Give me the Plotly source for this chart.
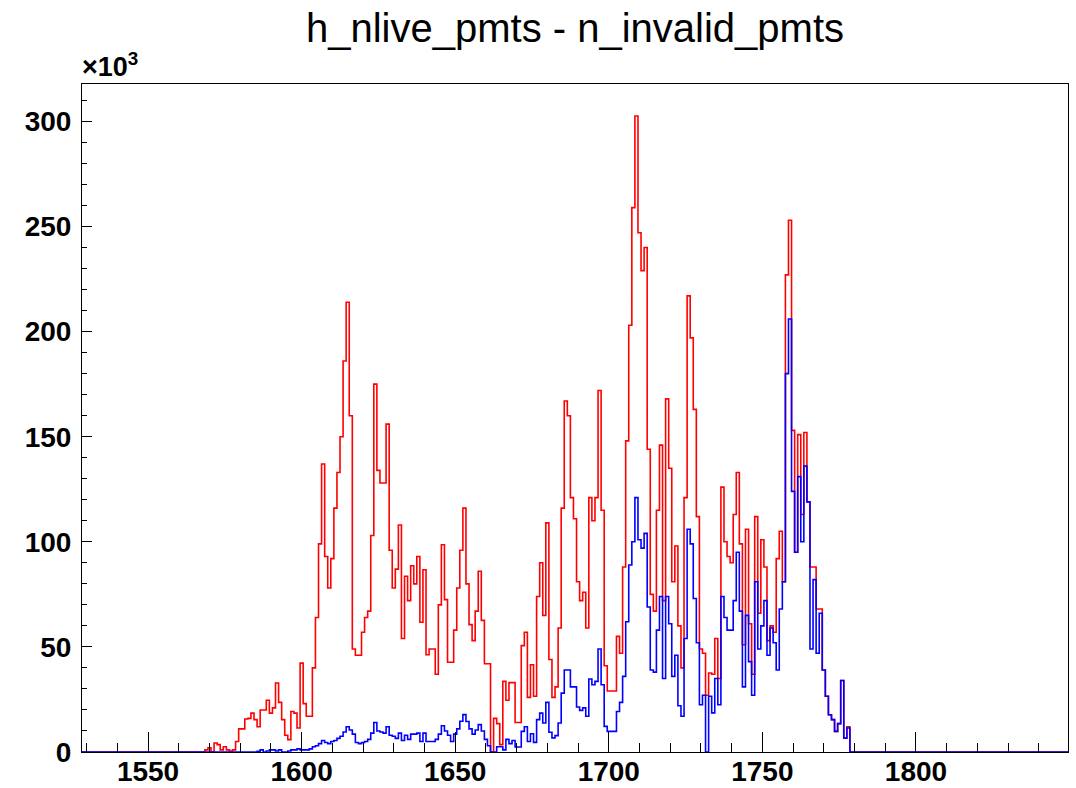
import numpy as np
import plotly.graph_objects as go

# Histogram contents, one value per unit-wide bin starting at first_bin (counts in thousands)
first_bin = 1566

nlive_k = [
    0, 0, 0, 1,                                              # 1566-1569
    2, 0, 4.3, 3.5, 1, 2.5, 1, 0.5, 1, 5,                    # 1570-1579
    11, 11, 15.7, 16, 18.5, 15.4, 12, 20, 20, 24.6,          # 1580-1589
    18.5, 21, 32.8, 23.6, 15.4, 8, 5.9, 19.3, 18.5, 11.4,    # 1590-1599
    42.3, 23, 17, 17, 40, 64, 99, 137, 93, 78,               # 1600-1609
    92, 116, 133, 150, 186, 214, 160, 49, 46, 46,            # 1610-1619
    57, 64, 67, 103, 175, 134, 128, 128, 156, 96,            # 1620-1629
    78, 87, 108, 54, 83.6, 72, 88.6, 80, 93, 61.7,           # 1630-1639
    86.7, 46.3, 49, 49, 37, 70, 98.6, 72.5, 42.7, 42.7,      # 1640-1649
    58, 78, 96, 116, 80, 60.6, 53, 67, 86, 62.6,             # 1650-1659
    42, 42, 0, 16, 13.5, 3.5, 33.6, 24.6, 33, 33,            # 1660-1669
    14, 14, 50.6, 57, 26, 41.5, 26.5, 74, 90, 65,            # 1670-1679
    109, 44, 26, 31, 59, 116, 167, 160, 121, 111,            # 1680-1689
    81, 72, 76, 59, 121, 110, 121, 172, 115, 41,             # 1690-1699
    29, 29, 29, 55, 47, 88, 148, 203, 259, 302.6,            # 1700-1709
    247, 229, 240, 144, 75, 67, 115, 146, 72, 168,           # 1710-1719
    135, 81, 98, 60, 40, 121, 217, 197, 163, 112,            # 1720-1729
    49, 47, 27, 37.6, 37, 54, 35, 126, 100, 93,              # 1730-1739
    90, 113, 133, 99, 51, 106, 61, 37, 112, 66,              # 1740-1749
    101, 88, 53, 60, 57, 92, 105, 81, 227, 253,              # 1750-1759
    153, 95, 151, 113, 152, 119, 88, 88, 68, 68,             # 1760-1769
    39, 26.5, 17.7, 15.4, 9.8, 13.5, 34, 6.6, 12, 0,         # 1770-1779
]

invalid_k = [
    0, 0, 0, 0,                                              # 1566-1569
    0, 0, 0, 0, 0, 0, 0, 0, 0, 0,                            # 1570-1579
    0, 0, 0, 0, 0, 0, 0.3, 1, 0, 0.5,                        # 1580-1589
    1, 1, 0.5, 1, 0, 0, 0.5, 1, 1, 1.5,                      # 1590-1599
    1, 1, 1, 1.5, 2.5, 3, 4, 5.5, 4.5, 4,                    # 1600-1609
    5, 5.5, 6.5, 7.5, 9.5, 12, 10.5, 8.5, 4.5, 4,            # 1610-1619
    4.5, 5, 6, 9, 14, 10, 9.5, 9, 12, 8,                     # 1620-1629
    7.5, 6.5, 9, 5.5, 8, 6, 8.5, 8.5, 9, 5,                  # 1630-1639
    9, 5, 5, 5, 6, 8.5, 12.5, 10, 8, 5,                      # 1640-1649
    8.5, 11, 14.6, 17.8, 14.5, 11, 8.5, 10.5, 13, 10,        # 1650-1659
    6, 3, 0, 0, 2.5, 2.5, 1, 6, 4, 5.5,                      # 1660-1669
    2.4, 2.4, 9.8, 12, 5, 8.7, 4.6, 15.4, 18.5, 13.8,        # 1670-1679
    23.6, 9.4, 6.7, 7.8, 13.8, 28, 39, 39, 31, 31,           # 1680-1689
    21.4, 19.8, 21, 17, 34.7, 32, 33.6, 49, 32, 12.2,        # 1690-1699
    9.8, 9.8, 9.8, 19.3, 23.6, 36, 62, 89, 100, 121,         # 1700-1709
    101, 97, 104, 69, 39, 38, 58, 74, 35, 74,                # 1710-1719
    61, 36, 46, 22, 17, 54, 106, 99, 73, 52,                 # 1720-1729
    22.5, 27, 0, 26.5, 18.6, 35, 22.5, 74, 64, 58,           # 1730-1739
    58, 72, 95, 67, 31, 65, 43, 27, 81, 49,                  # 1740-1749
    60, 72, 46, 59, 52, 39, 68, 81, 180, 206,                # 1750-1759
    124, 95, 131, 100, 136, 119, 49, 82, 47, 66,             # 1760-1769
    39, 26.5, 17.7, 15.4, 9.8, 13.5, 34, 6.6, 11.4, 0,       # 1770-1779
]

x_min, x_max = 1528.5, 1849.5
y_max = 317.8
x_ticks = [1550, 1600, 1650, 1700, 1750, 1800]
y_ticks = [0, 50, 100, 150, 200, 250, 300]

FONT = "Liberation Sans, Arial, Helvetica, sans-serif"


def step_outline(values):
    """Histogram outline: low bin edges, padded with empty stretches to the axis limits."""
    lo = first_bin - 0.5 + np.arange(len(values))
    xs = [x_min] + lo.tolist() + [float(lo[-1] + 1), x_max]
    ys = [0] + list(values) + [0, 0]
    return xs, ys


fig = go.Figure()
for vals, color in ((nlive_k, "#ff0000"), (invalid_k, "#0000ff")):
    xs, ys = step_outline(vals)
    fig.add_trace(go.Scatter(
        x=xs, y=ys, mode="lines", line=dict(color=color, width=1.6, shape="hv"),
        hoverinfo="skip", showlegend=False,
    ))

tick_font = dict(family=FONT, size=28, color="black", weight="bold")

fig.update_xaxes(
    range=[x_min, x_max], tickvals=x_ticks, ticks="inside", ticklen=20,
    tickwidth=1, tickcolor="black", showline=True, linecolor="black",
    linewidth=1, mirror=True, showgrid=False, zeroline=False,
    tickfont=tick_font, ticklabelstandoff=-6, automargin=False,
    minor=dict(dtick=10, tick0=1530, ticks="inside", ticklen=9,
               tickwidth=1, tickcolor="black", showgrid=False),
)
fig.update_yaxes(
    range=[0, y_max], tickvals=y_ticks, ticks="inside", ticklen=10,
    tickwidth=1, tickcolor="black", showline=True, linecolor="black",
    linewidth=1, mirror=True, showgrid=False, zeroline=False,
    tickfont=tick_font, ticklabelstandoff=4, automargin=False,
    minor=dict(dtick=10, tick0=0, ticks="inside", ticklen=5,
               tickwidth=1, tickcolor="black", showgrid=False),
)

fig.update_layout(
    width=1076, height=788, autosize=False,
    margin=dict(l=82, r=8, t=84, b=36),
    paper_bgcolor="white", plot_bgcolor="white",
    title=dict(text="h_nlive_pmts - n_invalid_pmts", x=0.5, xref="paper",
               y=1 - 28 / 788, yref="container", yanchor="middle",
               font=dict(family=FONT, size=40, color="black")),
    annotations=[dict(
        text="×10<sup>3</sup>", xref="paper", yref="paper",
        x=-0.002, y=1.0, xanchor="left", yanchor="bottom", showarrow=False,
        font=dict(family=FONT, size=27, color="black", weight="bold"),
    )],
)

fig.write_html("out.html")
